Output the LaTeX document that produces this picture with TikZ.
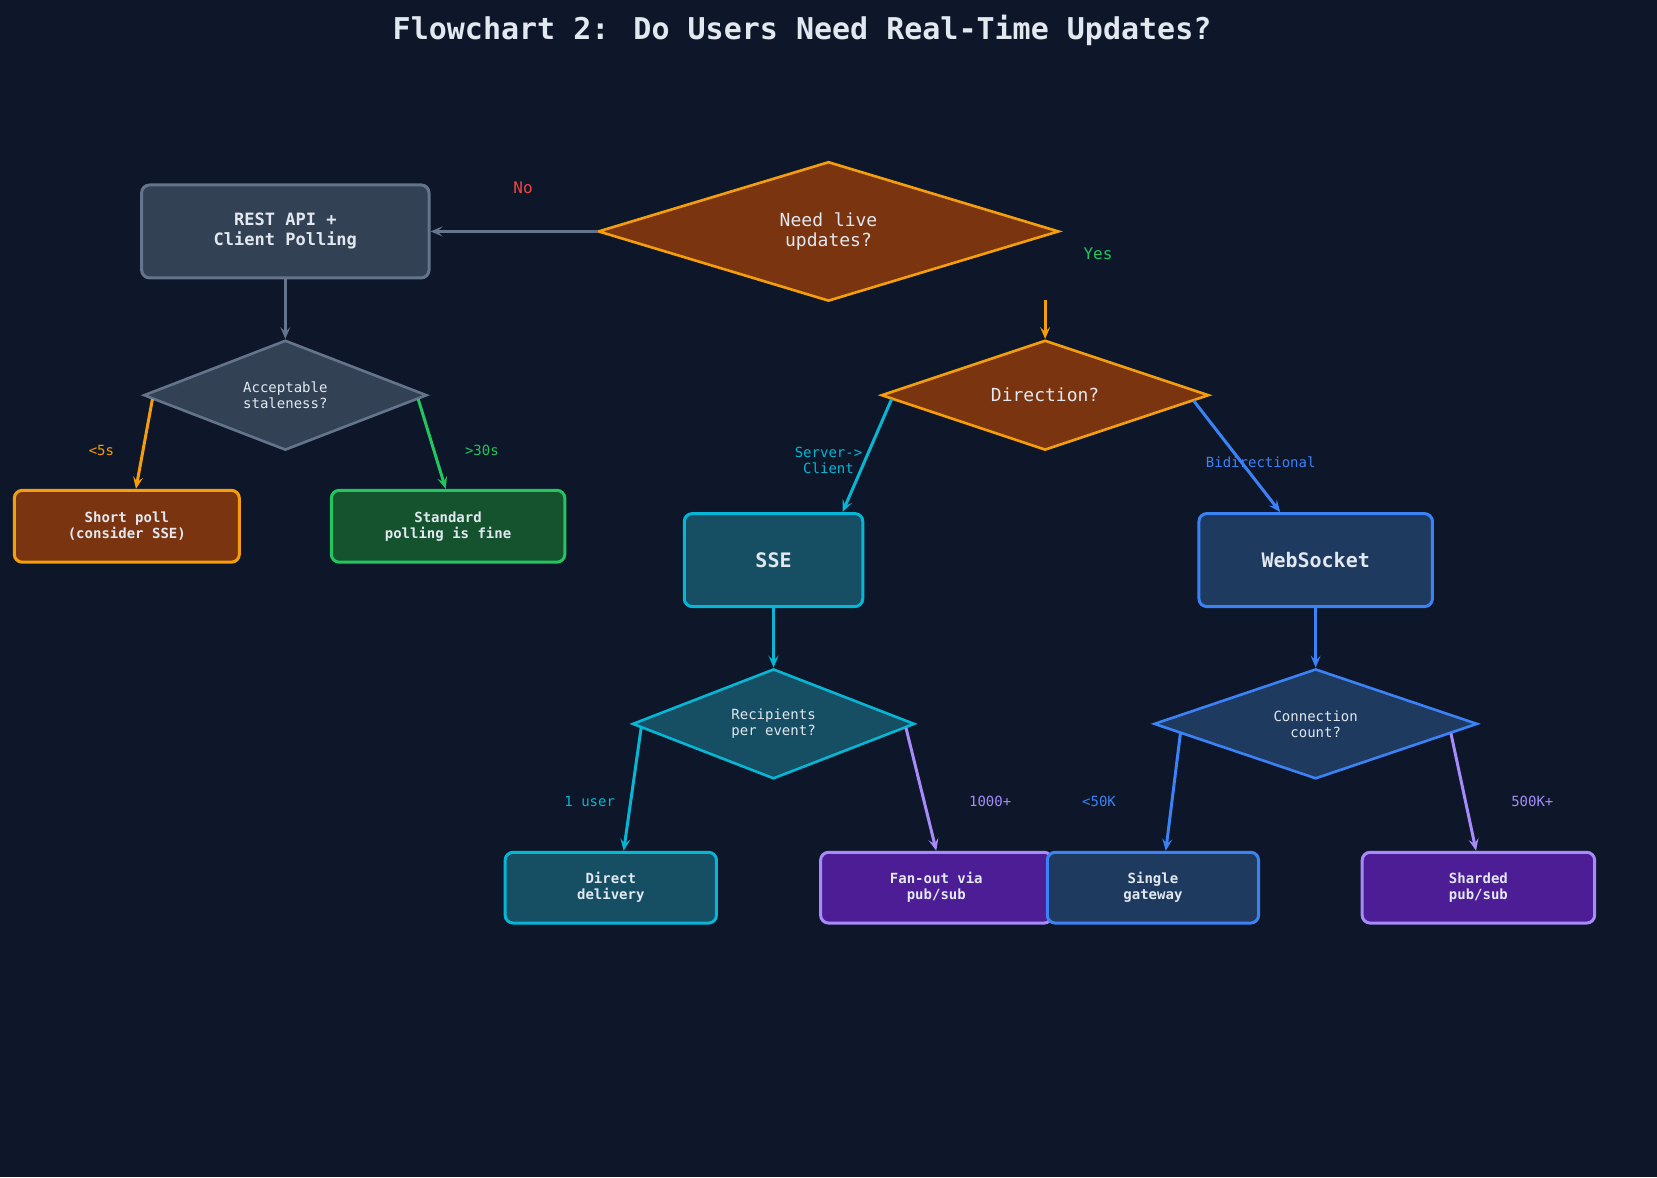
\documentclass[tikz,border=0pt]{standalone}
\usepackage{fontspec}
\setmainfont{DejaVu Sans Mono}
\usetikzlibrary{shapes.geometric,arrows.meta,calc}
\definecolor{bg}{HTML}{0E1729}
\definecolor{txt}{HTML}{E2E8F0}
\definecolor{slatef}{HTML}{334155}
\definecolor{slated}{HTML}{64748B}
\definecolor{brownf}{HTML}{7A3510}
\definecolor{orangd}{HTML}{F59E0B}
\definecolor{greenf}{HTML}{14532D}
\definecolor{greend}{HTML}{22C55E}
\definecolor{cyanf}{HTML}{164E63}
\definecolor{cyand}{HTML}{06B6D4}
\definecolor{bluef}{HTML}{1E3A5F}
\definecolor{blued}{HTML}{3B82F6}
\definecolor{purpf}{HTML}{4C1D95}
\definecolor{purpd}{HTML}{A78BFA}
\definecolor{redl}{HTML}{EF4444}
\tikzset{
    box/.style = {draw, rounded corners=4pt, line width=1.5pt, text=txt, align=center,
        font=\fontsize{7}{8}\selectfont\bfseries, inner sep=0pt},
    dia/.style = {draw, diamond, line width=1.3pt, text=txt, align=center, inner sep=0pt,
        font=\fontsize{7}{8}\selectfont},
    sz/.style 2 args = {minimum width=#1*0.5284pt, minimum height=#2*0.5284pt},
    arr/.style = {line width=1.5pt, -{Stealth[length=6pt,width=5pt,inset=2.5pt]}},
    lab/.style = {font=\fontsize{7}{8}\selectfont, align=center}
}
\begin{document}
\begin{tikzpicture}[x=0.5284pt, y=-0.5284pt]
    \fill[bg] (0,0) rectangle (1568,1114);
    \useasboundingbox (0,0) rectangle (1568,1114);
    \node[text=txt, font=\fontsize{15}{18}\selectfont\bfseries] (title) at (759,29) {Flowchart 2: Do Users Need Real-Time Updates?};
    % diamonds
    \node[dia, fill=brownf, draw=orangd, sz={436}{132}, aspect=3.3, font=\fontsize{9}{10}\selectfont] (live) at (784,219) {Need live\\updates?};
    \node[dia, fill=slatef, draw=slated, sz={268}{104}, aspect=2.6] (stale) at (270,374) {Acceptable\\staleness?};
    \node[dia, fill=brownf, draw=orangd, sz={310}{104}, aspect=3, font=\fontsize{9}{10}\selectfont] (dir) at (989,374) {Direction?};
    \node[dia, fill=cyanf, draw=cyand, sz={267}{104}, aspect=2.6] (recip) at (732,685) {Recipients\\per event?};
    \node[dia, fill=bluef, draw=blued, sz={306}{104}, aspect=2.9] (conn) at (1245,685) {Connection\\count?};
    % boxes
    \node[box, fill=slatef, draw=slated, sz={272}{88}, font=\fontsize{8.5}{10}\selectfont\bfseries] (rest) at (270,219) {REST API +\\Client Polling};
    \node[box, fill=brownf, draw=orangd, sz={213}{68}] (short) at (120,498) {Short poll\\(consider SSE)};
    \node[box, fill=greenf, draw=greend, sz={221}{68}] (std) at (424,498) {Standard\\polling is fine};
    \node[box, fill=cyanf, draw=cyand, sz={169}{88}, font=\fontsize{10}{12}\selectfont\bfseries] (sse) at (732,530) {SSE};
    \node[box, fill=bluef, draw=blued, sz={221}{88}, font=\fontsize{10}{12}\selectfont\bfseries] (ws) at (1245,530) {WebSocket};
    \node[box, fill=cyanf, draw=cyand, sz={200}{67}] (direct) at (578,840) {Direct\\delivery};
    \node[box, fill=purpf, draw=purpd, sz={219}{67}] (fan) at (886,840) {Fan-out via\\pub/sub};
    \node[box, fill=bluef, draw=blued, sz={200}{67}] (single) at (1091,840) {Single\\gateway};
    \node[box, fill=purpf, draw=purpd, sz={220}{67}] (shard) at (1399,840) {Sharded\\pub/sub};
    % free ends
    \coordinate (nostart) at (566,219);
    \coordinate (yesstart) at (989,284);
    % connectors
    \draw[arr, slated] (nostart) -- (rest.east);
    \node[lab, text=redl, font=\fontsize{8}{9}\selectfont] (nolab) at (495,178) {No};
    \draw[arr, orangd] (yesstart) -- (dir.north);
    \node[lab, text=greend, font=\fontsize{8}{9}\selectfont] (yeslab) at (1039,240) {Yes};
    \draw[arr, slated] (rest.south) -- (stale.north);
    \draw[arr, orangd] ($(stale.west)!0.07!(stale.south)$) -- ($(short.north west)!0.54!(short.north east)$);
    \node[lab, text=orangd] (l5s) at (96,426) {<5s};
    \draw[arr, greend] ($(stale.east)!0.07!(stale.south)$) -- ($(std.north west)!0.49!(std.north east)$);
    \node[lab, text=greend] (l30s) at (456,426) {>30s};
    \draw[arr, cyand] ($(dir.west)!0.07!(dir.south)$) -- ($(sse.north west)!0.88!(sse.north east)$);
    \node[lab, text=cyand] (lsc) at (784,436) {Server->\\Client};
    \draw[arr, blued] ($(dir.east)!0.1!(dir.south)$) -- ($(ws.north west)!0.35!(ws.north east)$);
    \node[lab, text=blued] (lbi) at (1193,437) {Bidirectional};
    \draw[arr, cyand] (sse.south) -- (recip.north);
    \draw[arr, blued] (ws.south) -- (conn.north);
    \draw[arr, cyand] ($(recip.west)!0.07!(recip.south)$) -- ($(direct.north west)!0.56!(direct.north east)$);
    \node[lab, text=cyand] (l1u) at (558,758) {1 user};
    \draw[arr, purpd] ($(recip.east)!0.07!(recip.south)$) -- ($(fan.north west)!0.5!(fan.north east)$);
    \node[lab, text=purpd] (l1k) at (937,758) {1000+};
    \draw[arr, blued] ($(conn.west)!0.17!(conn.south)$) -- ($(single.north west)!0.56!(single.north east)$);
    \node[lab, text=blued] (l50) at (1040,758) {<50K};
    \draw[arr, purpd] ($(conn.east)!0.17!(conn.south)$) -- ($(shard.north west)!0.49!(shard.north east)$);
    \node[lab, text=purpd] (l500) at (1450,758) {500K+};
\end{tikzpicture}
\end{document}
